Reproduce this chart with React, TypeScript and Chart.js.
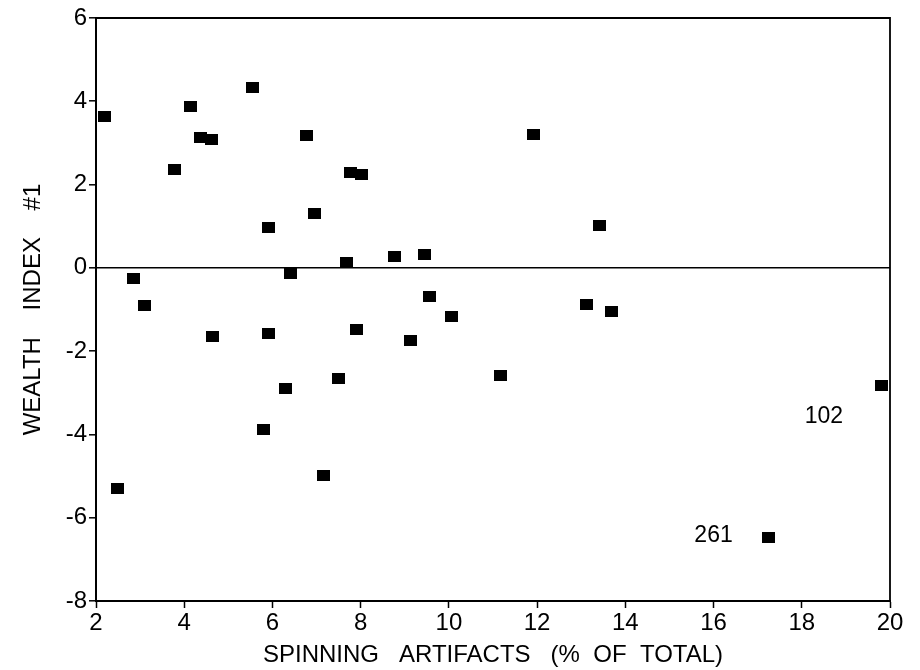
import React, { useEffect, useRef } from 'react';
import { Chart, registerables } from 'chart.js';

Chart.register(...registerables);

// Spinning artifacts (% of total) for each site
const spinningPct = [
  2.2, 2.84, 3.11, 2.48, 3.77, 4.15, 4.36, 4.61, 4.65, 5.54,
  5.92, 5.9, 5.79, 6.42, 6.29, 6.78, 6.96, 7.15, 7.49, 7.67,
  7.78, 8.01, 7.9, 8.76, 9.12, 9.44, 9.57, 10.07, 11.16, 11.91,
  13.11, 13.41, 13.68, 17.24, 19.8,
];
// Wealth index #1 for each site
const wealthIndex = [
  3.63, -0.26, -0.91, -5.29, 2.37, 3.88, 3.12, 3.09, -1.64, 4.33,
  0.97, -1.58, -3.87, -0.13, -2.9, 3.18, 1.31, -4.99, -2.65, 0.14,
  2.28, 2.23, -1.47, 0.27, -1.75, 0.32, -0.69, -1.17, -2.58, 3.2,
  -0.88, 1.02, -1.04, -6.47, -2.83,
];

const xTickValues = [2, 4, 6, 8, 10, 12, 14, 16, 18, 20];
const yTickValues = [-8, -6, -4, -2, 0, 2, 4, 6];

// Site number labels
const labelTexts = ['102', '261'];
const labelX = [18.5, 16.0];
const labelY = [-3.58, -6.43];

const FONT = "'Liberation Sans', Arial, Helvetica, sans-serif";

export default function App() {
  const ref = useRef<HTMLCanvasElement | null>(null);

  useEffect(() => {
    document.body.style.margin = '0';
    const canvas = ref.current;
    if (!canvas) return;

    const marker = document.createElement('canvas');
    marker.width = 13;
    marker.height = 11;
    const mctx = marker.getContext('2d');
    if (mctx) {
      mctx.fillStyle = '#000';
      mctx.fillRect(0, 0, 13, 11);
    }

    const framePlugin = {
      id: 'frame',
      afterDatasetsDraw(chart: any) {
        const { ctx, chartArea } = chart;
        ctx.save();
        ctx.strokeStyle = '#000';
        ctx.lineWidth = 1.8;
        ctx.beginPath();
        ctx.moveTo(chartArea.left, chartArea.top);
        ctx.lineTo(chartArea.right, chartArea.top);
        ctx.lineTo(chartArea.right, chartArea.bottom);
        ctx.stroke();
        ctx.restore();
      },
    };

    const labelPlugin = {
      id: 'siteLabels',
      afterDatasetsDraw(chart: any) {
        const { ctx, scales } = chart;
        ctx.save();
        ctx.fillStyle = '#000';
        ctx.font = `23px ${FONT}`;
        ctx.textAlign = 'center';
        ctx.textBaseline = 'middle';
        labelTexts.forEach((t, i) => {
          ctx.fillText(t, scales.x.getPixelForValue(labelX[i]), scales.y.getPixelForValue(labelY[i]));
        });
        ctx.restore();
      },
    };

    const chart = new Chart(canvas, {
      type: 'scatter',
      data: {
        datasets: [
          {
            data: spinningPct.map((x, i) => ({ x, y: wealthIndex[i] })),
            pointStyle: marker as any,
            pointRadius: 6,
            pointHoverRadius: 6,
            backgroundColor: '#000',
            borderColor: '#000',
          },
        ],
      },
      options: {
        animation: false,
        responsive: true,
        maintainAspectRatio: false,
        layout: { padding: { top: 18, right: 30, left: 0, bottom: 0 } },
        plugins: {
          legend: { display: false },
          tooltip: { enabled: false },
        },
        scales: {
          x: {
            type: 'linear',
            min: 2,
            max: 20,
            afterBuildTicks: (s: any) => {
              s.ticks = xTickValues.map((v) => ({ value: v }));
            },
            afterFit: (s: any) => {
              s.height = 69;
            },
            grid: {
              color: 'rgba(0,0,0,0)',
              tickColor: '#000',
              tickLength: 7,
              tickWidth: 1.5,
            },
            border: { display: true, color: '#000', width: 2 },
            ticks: {
              color: '#000',
              padding: 1,
              font: { family: FONT, size: 24 },
              maxRotation: 0,
            },
            title: {
              display: true,
              text: 'SPINNING   ARTIFACTS   (%  OF  TOTAL)',
              color: '#000',
              font: { family: FONT, size: 24 },
              padding: { top: 0, bottom: 0 },
            },
          },
          y: {
            type: 'linear',
            min: -8,
            max: 6,
            afterBuildTicks: (s: any) => {
              s.ticks = yTickValues.map((v) => ({ value: v }));
            },
            afterFit: (s: any) => {
              s.width = 96;
            },
            grid: {
              color: (c: any) => (c.tick && c.tick.value === 0 ? '#000' : 'rgba(0,0,0,0)'),
              lineWidth: 1.6,
              tickColor: '#000',
              tickLength: 7,
              tickWidth: 1.5,
            },
            border: { display: true, color: '#000', width: 2 },
            ticks: {
              color: '#000',
              padding: 2,
              font: { family: FONT, size: 24 },
            },
            title: {
              display: true,
              text: 'WEALTH    INDEX    #1',
              color: '#000',
              font: { family: FONT, size: 24 },
              padding: { top: 19, bottom: 0 },
            },
          },
        },
      },
      plugins: [framePlugin, labelPlugin],
    });

    return () => {
      chart.destroy();
    };
  }, []);

  return (
    <div style={{ position: 'absolute', left: 0, top: 0, width: 920, height: 670, background: '#fff' }}>
      <canvas ref={ref} />
    </div>
  );
}
